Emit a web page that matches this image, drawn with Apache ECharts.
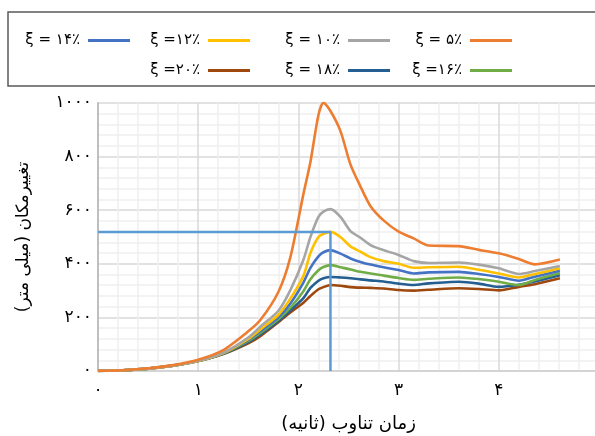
<!DOCTYPE html>
<html>
<head>
<meta charset="utf-8">
<script src="https://cdn.jsdelivr.net/npm/echarts@6/dist/echarts.min.js"></script>
<style>
  html, body { margin: 0; padding: 0; background: #fff; }
  #chart { width: 595px; height: 436px; }
</style>
</head>
<body>
<div id="chart"></div>
<script>
// زمان تناوب (ثانیه)
var time = [0, 0.25, 0.5, 0.75, 1.0, 1.25, 1.5, 1.62, 1.8, 1.92, 2.05, 2.12, 2.2, 2.25, 2.32, 2.42, 2.52, 2.62, 2.72, 2.85, 3.0, 3.15, 3.3, 3.6, 3.8, 4.0, 4.2, 4.36, 4.61];

// تغییرمکان (میلی متر) برای هر میرایی
var xi5  = [0, 3, 10, 22, 42, 78, 148, 190, 295, 425, 660, 780, 955, 1001, 970, 895, 770, 688, 615, 562, 520, 495, 468, 466, 452, 439, 418, 398, 416];
var xi10 = [0, 3, 9, 20, 38, 68, 125, 165, 225, 302, 415, 500, 575, 595, 604, 575, 522, 497, 470, 451, 433, 410, 403, 405, 397, 383, 362, 373, 392];
var xi12 = [0, 3, 9, 20, 37, 67, 120, 155, 210, 270, 355, 440, 500, 512, 519, 500, 465, 445, 425, 410, 400, 385, 387, 389, 378, 364, 349, 362, 383];
var xi14 = [0, 3, 9, 20, 37, 66, 116, 148, 200, 252, 330, 385, 428, 443, 451, 438, 420, 407, 397, 387, 377, 364, 368, 370, 362, 351, 337, 352, 374];
var xi16 = [0, 3, 9, 20, 37, 65, 112, 142, 193, 236, 298, 342, 376, 388, 395, 387, 379, 370, 364, 356, 347, 340, 344, 349, 343, 333, 321, 340, 366];
var xi18 = [0, 3, 9, 20, 37, 64, 108, 136, 187, 226, 272, 310, 337, 346, 351, 349, 346, 342, 338, 334, 326, 321, 327, 333, 326, 314, 322, 334, 357];
var xi20 = [0, 3, 9, 20, 37, 63, 103, 130, 182, 218, 255, 280, 305, 313, 321, 318, 313, 311, 310, 308, 302, 300, 303, 309, 306, 301, 314, 324, 346];

var seriesNames = ['ξ = ۵٪', 'ξ = ۱۰٪', 'ξ =۱۲٪', 'ξ = ۱۴٪', 'ξ =۱۶٪', 'ξ = ۱۸٪', 'ξ =۲۰٪'];
var seriesValues = [xi5, xi10, xi12, xi14, xi16, xi18, xi20];
var colors = ['#ED7D31', '#A5A5A5', '#FFC000', '#4472C4', '#70AD47', '#255E91', '#9E480E'];

var xTickLabels = ['۰', '۱', '۲', '۳', '۴', '۵'];
var yTickLabels = ['۰', '۲۰۰', '۴۰۰', '۶۰۰', '۸۰۰', '۱۰۰۰'];

var fontFa = 'DejaVu Sans';

function pairs(vals) {
    return time.map(function (t, i) { return [t, vals[i]]; });
}

// خط راهنما روی قله منحنی ۱۲٪
var peakIdx = 0;
xi12.forEach(function (v, i) { if (v > xi12[peakIdx]) peakIdx = i; });
var refLine = [[0, xi12[peakIdx]], [time[peakIdx], xi12[peakIdx]], [time[peakIdx], 0]];

var series = seriesValues.map(function (vals, i) {
    return {
        name: seriesNames[i],
        type: 'line',
        data: pairs(vals),
        smooth: 0.25,
        symbol: 'none',
        lineStyle: { width: 2.6, color: colors[i] },
        itemStyle: { color: colors[i] },
        z: 10 - i
    };
});
series.push({
    name: 'ref',
    type: 'line',
    data: refLine,
    symbol: 'none',
    silent: true,
    lineStyle: { width: 2.5, color: '#5B9BD5' },
    z: 20
});

// جای هر راهنما (از راست)
var legendPos = [
    { name: seriesNames[0], right: 78, top: 28 },
    { name: seriesNames[1], right: 200, top: 28 },
    { name: seriesNames[2], right: 340, top: 28 },
    { name: seriesNames[3], right: 460, top: 28 },
    { name: seriesNames[4], right: 78, top: 58 },
    { name: seriesNames[5], right: 200, top: 58 },
    { name: seriesNames[6], right: 340, top: 58 }
];
var legends = legendPos.map(function (p) {
    return {
        data: [p.name],
        right: p.right,
        top: p.top,
        align: 'right',
        icon: 'rect',
        itemWidth: 42,
        itemHeight: 3,
        selectedMode: false,
        textStyle: { fontFamily: fontFa, fontSize: 15, color: '#000', padding: [0, 3, 0, 0] }
    };
});

var myChart = echarts.init(document.getElementById('chart'));
var option = {
    animation: false,
    backgroundColor: '#fff',
    legend: legends,
    graphic: [{
        type: 'rect',
        shape: { x: 8, y: 12, width: 600, height: 74 },
        style: { fill: 'none', stroke: '#595959', lineWidth: 1.5 },
        silent: true
    }],
    grid: { left: 98, top: 103, width: 501, height: 268, outerBoundsMode: 'none', containLabel: false },
    xAxis: {
        type: 'value',
        min: 0,
        max: 5,
        interval: 1,
        name: 'زمان تناوب (ثانیه)\u200F',
        nameLocation: 'middle',
        nameGap: 44,
        nameTextStyle: { fontFamily: fontFa, fontSize: 18, color: '#000' },
        axisLine: { show: true, lineStyle: { color: '#d0d0d0', width: 1.5 } },
        axisTick: { show: false },
        axisLabel: {
            fontFamily: fontFa, fontSize: 17, color: '#000', margin: 11,
            formatter: function (v) { return xTickLabels[Math.round(v)]; }
        },
        splitLine: { show: true, lineStyle: { color: '#d9d9d9', width: 1.5 } },
        minorTick: { show: false, splitNumber: 5 },
        minorSplitLine: { show: true, lineStyle: { color: '#f0f0f0', width: 1.5 } }
    },
    yAxis: {
        type: 'value',
        min: 0,
        max: 1000,
        interval: 200,
        name: 'تغییرمکان (میلی متر)\u200F',
        nameLocation: 'middle',
        nameGap: 66,
        nameTextStyle: { fontFamily: fontFa, fontSize: 17, color: '#000' },
        axisLine: { show: true, lineStyle: { color: '#bfbfbf', width: 2 } },
        axisTick: { show: false },
        axisLabel: {
            fontFamily: fontFa, fontSize: 17, color: '#000', margin: 6,
            formatter: function (v) { return yTickLabels[Math.round(v / 200)]; }
        },
        splitLine: { show: true, lineStyle: { color: '#d9d9d9', width: 1.5 } },
        minorTick: { show: false, splitNumber: 5 },
        minorSplitLine: { show: true, lineStyle: { color: '#f0f0f0', width: 1.5 } }
    },
    series: series
};
myChart.setOption(option);
</script>
</body>
</html>
